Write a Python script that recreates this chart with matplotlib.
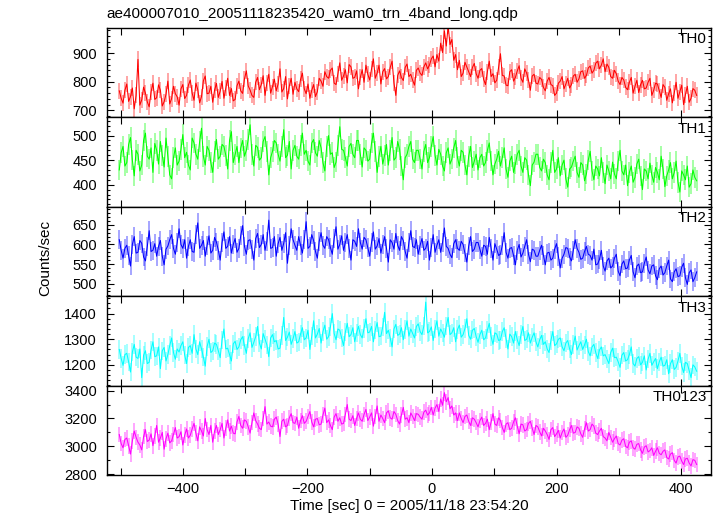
import numpy as np
import matplotlib
matplotlib.use("Agg")
import matplotlib.pyplot as plt
from matplotlib.ticker import MultipleLocator

plt.rcParams['font.family'] = ['Liberation Sans', 'DejaVu Sans']

title = "ae400007010_20051118235420_wam0_trn_4band_long.qdp"
xlabel = "Time [sec] 0 = 2005/11/18 23:54:20"
ylabel = "Counts/sec"

# light curve bins: start time and bin width (sec)
t_start = -502
t_bin = 3

th0 = [768, 742, 725, 770, 792, 731, 748, 778, 705, 752, 878, 718, 736, 781, 760, 729,
       712, 764, 795, 738, 744, 789, 770, 715, 730, 756, 802, 722, 741, 784, 758, 747,
       718, 775, 790, 741, 752, 788, 806, 760, 735, 795, 772, 726, 748, 803, 820, 758,
       760, 784, 728, 771, 794, 745, 767, 801, 742, 778, 812, 752, 776, 733, 738, 786,
       802, 768, 759, 810, 838, 785, 771, 752, 745, 798, 815, 772, 790, 821, 752, 796,
       826, 760, 783, 809, 768, 792, 845, 764, 776, 818, 740, 785, 812, 756, 798, 775,
       765, 808, 830, 775, 758, 792, 742, 770, 790, 748, 765, 812, 802, 784, 835, 818,
       812, 840, 848, 795, 790, 828, 866, 805, 820, 842, 796, 860, 852, 812, 815, 838,
       775, 815, 842, 798, 858, 826, 806, 845, 880, 812, 830, 858, 792, 835, 846, 810,
       818, 850, 872, 796, 752, 822, 838, 815, 804, 850, 862, 818, 826, 805, 788, 840,
       848, 830, 822, 852, 866, 845, 858, 880, 890, 852, 895, 872, 935, 902, 978, 925,
       995, 930, 948, 875, 895, 842, 875, 818, 830, 868, 852, 835, 818, 850, 864, 828,
       812, 840, 846, 808, 790, 835, 872, 818, 828, 796, 805, 850, 898, 822, 820, 788,
       786, 835, 842, 802, 815, 838, 856, 812, 798, 845, 830, 805, 770, 820, 826, 795,
       792, 815, 808, 780, 768, 802, 815, 790, 786, 752, 760, 795, 802, 818, 775, 792,
       812, 778, 790, 820, 826, 798, 810, 835, 838, 812, 822, 848, 855, 830, 840, 865,
       872, 845, 858, 880, 835, 862, 850, 818, 812, 840, 828, 802, 790, 815, 806, 780,
       772, 798, 815, 760, 784, 805, 762, 790, 805, 775, 778, 798, 812, 752, 770, 795,
       792, 768, 745, 790, 780, 735, 758, 775, 726, 760, 798, 742, 765, 788, 720, 755,
       784, 728, 742, 776, 770, 752]

th1 = [430, 465, 478, 438, 445, 482, 496, 450, 418, 470, 462, 428, 440, 490, 505, 458,
       452, 475, 425, 484, 470, 442, 488, 460, 436, 495, 458, 420, 412, 455, 475, 440,
       448, 472, 502, 455, 466, 440, 430, 495, 485, 462, 452, 488, 515, 458, 440, 478,
       470, 445, 425, 468, 492, 452, 458, 482, 478, 460, 432, 490, 508, 445, 462, 478,
       445, 475, 490, 458, 470, 492, 522, 462, 438, 480, 476, 450, 455, 488, 498, 468,
       420, 455, 468, 490, 485, 462, 448, 478, 512, 455, 460, 488, 432, 470, 480, 458,
       452, 480, 505, 462, 470, 448, 440, 485, 492, 465, 458, 490, 475, 445, 428, 478,
       500, 462, 465, 435, 446, 480, 518, 472, 470, 455, 438, 478, 484, 462, 455, 490,
       490, 462, 436, 475, 470, 448, 452, 485, 505, 468, 425, 458, 478, 442, 460, 482,
       440, 470, 496, 450, 455, 488, 472, 438, 410, 455, 462, 478, 488, 452, 445, 470,
       470, 452, 432, 468, 482, 445, 455, 478, 498, 460, 440, 472, 462, 438, 428, 465,
       475, 442, 452, 475, 490, 455, 438, 470, 466, 440, 420, 458, 478, 435, 448, 462,
       430, 455, 462, 438, 445, 470, 485, 448, 420, 442, 452, 468, 438, 455, 475, 432,
       415, 448, 458, 425, 442, 462, 470, 438, 425, 455, 450, 420, 398, 440, 446, 462,
       462, 435, 428, 452, 445, 420, 410, 445, 470, 425, 432, 455, 418, 440, 450, 412,
       395, 432, 436, 448, 458, 425, 415, 445, 440, 408, 422, 450, 468, 428, 410, 438,
       432, 418, 455, 425, 402, 440, 428, 412, 446, 422, 412, 448, 470, 428, 420, 440,
       398, 425, 438, 405, 415, 442, 452, 418, 390, 432, 428, 412, 444, 420, 405, 435,
       425, 410, 458, 432, 396, 418, 430, 445, 412, 425, 448, 405, 385, 428, 420, 410,
       438, 395, 402, 430, 415, 408]

th2 = [612, 585, 565, 590, 598, 572, 545, 600, 620, 578, 580, 610, 603, 568, 558, 595,
       635, 582, 585, 602, 570, 595, 610, 570, 548, 588, 596, 612, 625, 590, 575, 605,
       640, 600, 590, 612, 565, 595, 612, 582, 580, 625, 655, 590, 598, 610, 570, 598,
       622, 578, 585, 618, 606, 585, 560, 605, 632, 590, 595, 620, 578, 600, 615, 580,
       590, 622, 648, 595, 575, 610, 612, 588, 560, 615, 628, 592, 600, 625, 585, 608,
       662, 590, 592, 620, 570, 602, 618, 585, 603, 630, 552, 598, 640, 612, 598, 585,
       620, 598, 578, 612, 658, 590, 595, 625, 610, 582, 565, 608, 630, 598, 590, 620,
       612, 592, 575, 615, 645, 588, 600, 622, 585, 605, 625, 590, 560, 612, 608, 595,
       640, 605, 588, 618, 612, 592, 570, 605, 632, 588, 596, 615, 578, 600, 620, 590,
       555, 612, 605, 588, 628, 598, 585, 620, 610, 582, 565, 605, 635, 595, 592, 612,
       575, 598, 615, 585, 590, 608, 560, 592, 625, 580, 598, 612, 580, 605, 642, 595,
       590, 575, 566, 602, 612, 590, 585, 608, 600, 578, 555, 596, 620, 582, 588, 605,
       605, 588, 570, 598, 595, 575, 618, 590, 560, 602, 588, 572, 575, 598, 630, 580,
       565, 590, 592, 572, 548, 585, 600, 568, 578, 595, 612, 575, 556, 588, 585, 570,
       570, 585, 598, 572, 548, 578, 580, 560, 565, 588, 602, 570, 540, 565, 575, 592,
       590, 568, 558, 585, 612, 590, 580, 562, 565, 582, 595, 575, 572, 560, 588, 548,
       550, 562, 585, 545, 532, 558, 565, 540, 545, 565, 575, 532, 520, 550, 558, 538,
       540, 560, 572, 530, 515, 545, 550, 528, 530, 552, 568, 535, 525, 545, 548, 520,
       510, 538, 545, 522, 528, 545, 560, 512, 505, 530, 538, 518, 520, 542, 552, 515,
       498, 528, 535, 505, 515, 530]

th3 = [1260, 1225, 1198, 1240, 1245, 1212, 1172, 1250, 1280, 1230, 1225, 1262, 1150, 1238, 1255, 1205,
       1210, 1258, 1290, 1232, 1235, 1270, 1185, 1255, 1268, 1215, 1240, 1275, 1305, 1248, 1222, 1262,
       1250, 1275, 1290, 1238, 1205, 1268, 1275, 1245, 1318, 1262, 1240, 1290, 1262, 1230, 1195, 1272,
       1300, 1248, 1255, 1285, 1280, 1255, 1228, 1298, 1340, 1262, 1265, 1240, 1215, 1282, 1292, 1260,
       1270, 1298, 1310, 1275, 1245, 1302, 1325, 1268, 1288, 1310, 1350, 1285, 1262, 1322, 1300, 1278,
       1232, 1305, 1318, 1290, 1295, 1262, 1265, 1315, 1385, 1295, 1308, 1328, 1280, 1302, 1330, 1285,
       1290, 1320, 1345, 1298, 1305, 1335, 1260, 1312, 1372, 1305, 1320, 1342, 1285, 1330, 1355, 1300,
       1310, 1348, 1400, 1322, 1298, 1340, 1335, 1305, 1275, 1328, 1362, 1310, 1318, 1345, 1290, 1325,
       1350, 1318, 1305, 1342, 1380, 1325, 1328, 1350, 1290, 1335, 1365, 1310, 1312, 1348, 1405, 1322,
       1335, 1305, 1270, 1340, 1358, 1315, 1320, 1345, 1298, 1338, 1372, 1312, 1340, 1322, 1305, 1350,
       1360, 1330, 1318, 1352, 1445, 1325, 1330, 1348, 1295, 1340, 1372, 1312, 1340, 1325, 1308, 1352,
       1385, 1318, 1325, 1345, 1290, 1338, 1355, 1308, 1318, 1342, 1380, 1315, 1300, 1335, 1342, 1310,
       1288, 1318, 1335, 1298, 1305, 1335, 1362, 1310, 1280, 1325, 1320, 1295, 1298, 1330, 1345, 1302,
       1262, 1320, 1310, 1285, 1330, 1298, 1275, 1318, 1350, 1295, 1300, 1325, 1285, 1308, 1325, 1290,
       1270, 1298, 1315, 1280, 1290, 1262, 1248, 1295, 1330, 1275, 1282, 1300, 1305, 1270, 1255, 1285,
       1295, 1262, 1240, 1280, 1312, 1258, 1275, 1290, 1260, 1278, 1300, 1252, 1235, 1270, 1280, 1248,
       1225, 1258, 1270, 1235, 1240, 1222, 1205, 1248, 1265, 1228, 1230, 1212, 1190, 1238, 1248, 1215,
       1220, 1240, 1270, 1205, 1195, 1225, 1232, 1200, 1210, 1235, 1180, 1222, 1245, 1198, 1212, 1225,
       1185, 1212, 1230, 1195, 1198, 1220, 1165, 1205, 1220, 1182, 1190, 1215, 1245, 1195, 1170, 1210,
       1205, 1178, 1150, 1200, 1192, 1175]

th0123 = [3085, 3020, 2990, 3050, 3060, 3005, 2945, 3040, 3110, 3065, 3030, 3010, 2975, 3070, 3120, 3035,
          3045, 3090, 3005, 3075, 3150, 3030, 3060, 3100, 2980, 3055, 3095, 3025, 3040, 3085, 3135, 3060,
          3070, 3105, 3010, 3080, 3125, 3060, 3080, 3125, 3165, 3095, 3040, 3140, 3110, 3075, 3200, 3120,
          3085, 3150, 3030, 3110, 3150, 3085, 3120, 3165, 3060, 3130, 3190, 3110, 3145, 3095, 3090, 3175,
          3215, 3150, 3130, 3190, 3180, 3140, 3095, 3170, 3240, 3185, 3160, 3130, 3120, 3200, 3285, 3160,
          3175, 3145, 3140, 3195, 3210, 3160, 3070, 3180, 3195, 3140, 3150, 3205, 3235, 3170, 3165, 3210,
          3130, 3185, 3220, 3165, 3180, 3215, 3250, 3175, 3140, 3195, 3200, 3155, 3160, 3225, 3275, 3170,
          3190, 3150, 3120, 3210, 3235, 3180, 3205, 3160, 3165, 3230, 3300, 3195, 3185, 3220, 3150, 3200,
          3240, 3195, 3180, 3230, 3265, 3185, 3210, 3240, 3145, 3215, 3290, 3180, 3225, 3200, 3170, 3240,
          3255, 3205, 3195, 3250, 3230, 3185, 3160, 3225, 3280, 3195, 3205, 3170, 3240, 3215, 3185, 3235,
          3230, 3210, 3195, 3245, 3260, 3225, 3240, 3280, 3225, 3275, 3300, 3250, 3340, 3295, 3385, 3320,
          3350, 3270, 3290, 3225, 3240, 3185, 3240, 3200, 3170, 3215, 3225, 3180, 3150, 3205, 3195, 3170,
          3140, 3185, 3210, 3150, 3165, 3195, 3120, 3175, 3235, 3160, 3150, 3205, 3185, 3135, 3100, 3160,
          3170, 3120, 3130, 3175, 3205, 3145, 3090, 3160, 3155, 3110, 3120, 3165, 3180, 3130, 3085, 3150,
          3140, 3105, 3075, 3130, 3110, 3085, 3050, 3120, 3135, 3070, 3090, 3115, 3060, 3100, 3125, 3065,
          3080, 3120, 3150, 3095, 3100, 3140, 3130, 3090, 3065, 3125, 3170, 3110, 3120, 3160, 3145, 3095,
          3085, 3110, 3130, 3070, 3060, 3040, 3100, 3065, 3030, 3055, 3075, 3020, 3010, 3045, 3055, 3000,
          2990, 3030, 3040, 2990, 2980, 3015, 3020, 2975, 2950, 2995, 3005, 2960, 2970, 2990, 2935, 2965,
          2990, 2950, 2940, 2965, 2975, 2920, 2910, 2945, 2955, 2900, 2880, 2925, 2930, 2895, 2870, 2910,
          2915, 2880, 2860, 2905, 2900, 2870]

# typical 1-sigma error per bin for each band
errors = [28, 21, 24, 36, 56]

bands = ["TH0", "TH1", "TH2", "TH3", "TH0123"]
series = [th0, th1, th2, th3, th0123]
colors = ["#ff0000", "#00ff00", "#0000ff", "#00ffff", "#ff00ff"]
ylims = [(675, 988), (355, 537), (468, 696), (1119, 1468), (2795, 3436)]
ymajor = [100, 50, 50, 100, 200]
yminor = [20, 10, 10, 20, 100]

fig = plt.figure(figsize=(7.17, 5.16), dpi=100)
gs = fig.add_gridspec(5, 1, left=0.149, right=0.9916, bottom=0.0795, top=0.9457, hspace=0)

axes = []
for i, (name, vals, col) in enumerate(zip(bands, series, colors)):
    ax = fig.add_subplot(gs[i, 0], sharex=axes[0] if axes else None)
    axes.append(ax)
    t = t_start + t_bin * np.arange(len(vals))
    ax.errorbar(t, vals, yerr=errors[i], fmt='none', ecolor=col, alpha=0.45, elinewidth=1.1)
    ax.plot(t, vals, color=col, lw=0.75)
    ax.set_ylim(*ylims[i])
    ax.yaxis.set_major_locator(MultipleLocator(ymajor[i]))
    ax.yaxis.set_minor_locator(MultipleLocator(yminor[i]))
    ax.xaxis.set_major_locator(MultipleLocator(200))
    ax.xaxis.set_minor_locator(MultipleLocator(100))
    ax.tick_params(which='both', direction='in', top=True, right=True, labelsize=10.5)
    ax.tick_params(axis='y', which='major', length=5, width=0.8, pad=7)
    ax.tick_params(axis='y', which='minor', length=2.5, width=0.8)
    ax.tick_params(axis='x', which='both', length=5, width=0.8, pad=5)
    for sp in ax.spines.values():
        sp.set_linewidth(1.0)
    ax.text(0.993, 0.95, name, transform=ax.transAxes, ha='right', va='top', fontsize=11)
    if i < 4:
        ax.tick_params(axis='x', labelbottom=False)

axes[0].set_xlim(-522, 448)
axes[-1].set_xlabel(xlabel, fontsize=11, labelpad=2)
fig.text(0.063, 0.5, ylabel, rotation=90, ha='center', va='center', fontsize=11)
fig.text(0.149, 0.973, title, ha='left', va='center', fontsize=11)

fig.savefig("out.png", dpi=100)
